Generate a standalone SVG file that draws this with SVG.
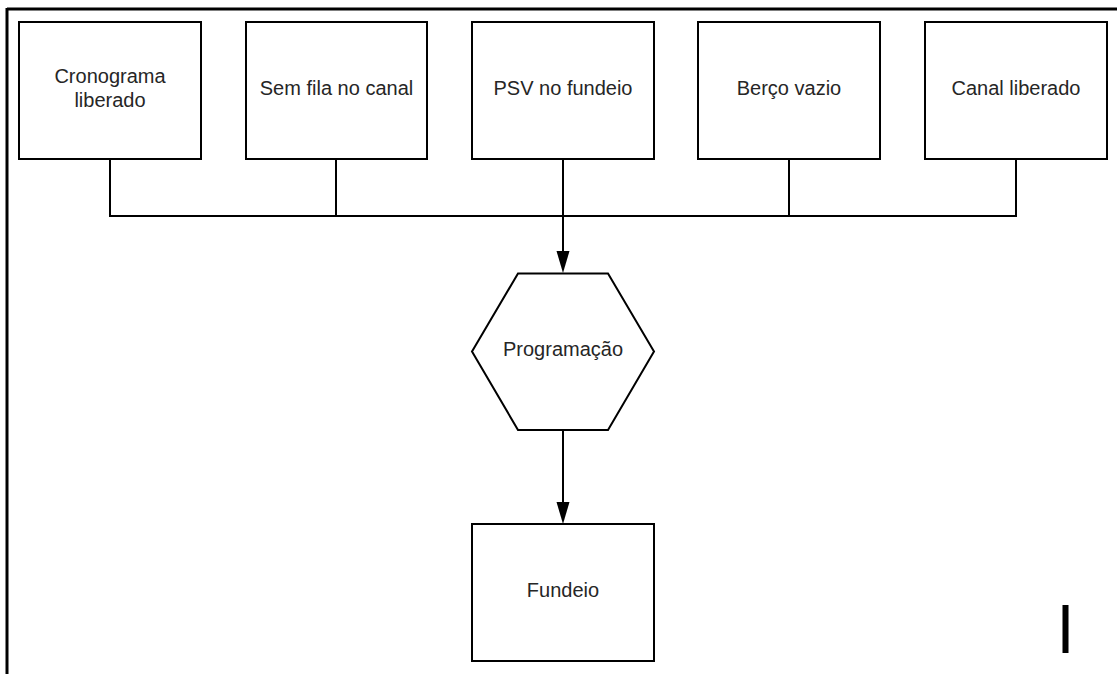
<svg xmlns="http://www.w3.org/2000/svg" width="1117" height="674" viewBox="0 0 1117 674">
  <style>
    .box { fill: #ffffff; stroke: #000000; stroke-width: 2; }
    .lbl { font-family: "Liberation Sans", Arial, sans-serif; font-size: 20px; fill: #262626; text-anchor: middle; }
    .wire { fill: none; stroke: #000000; stroke-width: 2; }
    .head { fill: #000000; }
  </style>

  <rect width="1117" height="674" fill="#ffffff"/>

  <!-- frame -->
  <g id="frame">
    <line x1="7" y1="9" x2="1117" y2="9" stroke="#000" stroke-width="3"/>
    <line x1="7" y1="8" x2="7" y2="674" stroke="#000" stroke-width="3"/>
    <rect x="1062.5" y="605" width="6" height="48" fill="#000"/>
  </g>

  <!-- connectors -->
  <g id="connectors">
    <path class="wire" d="M110,159 V216 H1016 V159"/>
    <line class="wire" x1="336" y1="159" x2="336" y2="216"/>
    <line class="wire" x1="789" y1="159" x2="789" y2="216"/>
    <path class="wire" d="M563,159 V251"/>
    <path class="head" d="M556.5,251 L569.5,251 L563,273 Z"/>
    <path class="wire" d="M563,430 V502"/>
    <path class="head" d="M556.5,502 L569.5,502 L563,524 Z"/>
  </g>

  <g id="n-cronograma">
    <rect class="box" x="19" y="22" width="182" height="137"/>
    <text class="lbl" x="110" y="83">Cronograma</text>
    <text class="lbl" x="110" y="106.5">liberado</text>
  </g>
  <g id="n-semfila">
    <rect class="box" x="246" y="22" width="181" height="137"/>
    <text class="lbl" x="336.5" y="95">Sem fila no canal</text>
  </g>
  <g id="n-psv">
    <rect class="box" x="472" y="22" width="182" height="137"/>
    <text class="lbl" x="563" y="95">PSV no fundeio</text>
  </g>
  <g id="n-berco">
    <rect class="box" x="698" y="22" width="182" height="137"/>
    <text class="lbl" x="789" y="95">Berço vazio</text>
  </g>
  <g id="n-canal">
    <rect class="box" x="925" y="22" width="182" height="137"/>
    <text class="lbl" x="1016" y="95">Canal liberado</text>
  </g>
  <g id="n-programacao">
    <polygon class="box" points="518,273.5 608,273.5 654,351.5 608,430 518,430 472,351.5"/>
    <text class="lbl" x="563" y="356">Programação</text>
  </g>
  <g id="n-fundeio">
    <rect class="box" x="472" y="524" width="182" height="137"/>
    <text class="lbl" x="563" y="597">Fundeio</text>
  </g>
</svg>
